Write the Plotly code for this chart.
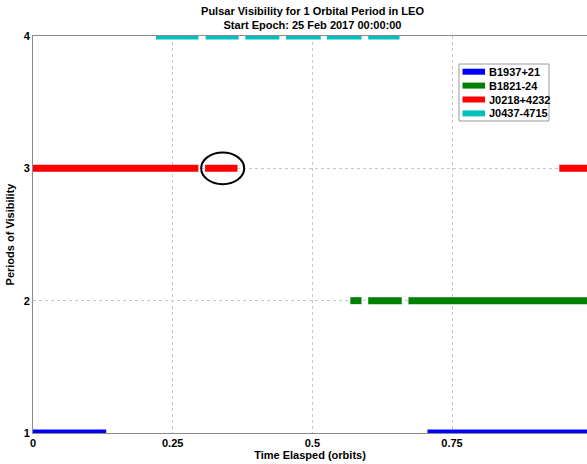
import plotly.graph_objects as go

# Visibility windows (start, end) in orbits for each pulsar
pulsars = ["B1937+21", "B1821-24", "J0218+4232", "J0437-4715"]
levels = [1, 2, 3, 4]
colors = ["#0000FF", "#008000", "#FF0000", "#00BFBF"]

b1937_starts = [0.0, 0.706]
b1937_ends = [0.131, 1.0]
b1821_starts = [0.568, 0.600, 0.672]
b1821_ends = [0.588, 0.660, 1.0]
j0218_starts = [0.0, 0.308, 0.942]
j0218_ends = [0.296, 0.366, 1.0]
j0437_starts = [0.220, 0.309, 0.380, 0.453, 0.526, 0.600]
j0437_ends = [0.296, 0.368, 0.441, 0.515, 0.588, 0.656]

starts = [b1937_starts, b1821_starts, j0218_starts, j0437_starts]
ends = [b1937_ends, b1821_ends, j0218_ends, j0437_ends]

# highlighted window (ellipse)
ell_x = [0.301, 0.378]
ell_y = [2.88, 3.12]

x_ticks = [0, 0.25, 0.5, 0.75]
x_ticklabels = ["0", "0.25", "0.5", "0.75"]
y_ticks = [1, 2, 3, 4]

FONT = "Liberation Sans, Arial, Helvetica, sans-serif"
W, H = 587, 464
L, R, T, B = 33, 0, 36, 31
PW, PH = W - L - R, H - T - B


def px2paper_x(px):
    return (px - L) / PW


def px2paper_y(py):
    return (H - B - py) / PH


fig = go.Figure()
for name, lvl, col, s, e in zip(pulsars, levels, colors, starts, ends):
    xs, ys = [], []
    for a, b in zip(s, e):
        xs += [a, b, None]
        ys += [lvl, lvl, None]
    fig.add_trace(go.Scatter(x=xs, y=ys, mode="lines", name=name,
                             line=dict(color=col, width=7), showlegend=False,
                             hoverinfo="skip"))

fig.add_shape(type="circle", xref="x", yref="y",
              x0=ell_x[0], x1=ell_x[1], y0=ell_y[0], y1=ell_y[1],
              line=dict(color="black", width=2))

# Legend box drawn by hand (MATLAB-style compact legend)
fig.add_shape(type="rect", xref="paper", yref="paper",
              x0=px2paper_x(459), x1=px2paper_x(549),
              y0=px2paper_y(121), y1=px2paper_y(64),
              line=dict(color="#9A9A9A", width=1), fillcolor="white", layer="above")
row_y = [71.7, 85.6, 99.5, 113.4]
for name, col, ry in zip(pulsars, colors, row_y):
    fig.add_shape(type="line", xref="paper", yref="paper",
                  x0=px2paper_x(462.5), x1=px2paper_x(485),
                  y0=px2paper_y(ry), y1=px2paper_y(ry),
                  line=dict(color=col, width=6), layer="above")
    fig.add_annotation(xref="paper", yref="paper", x=px2paper_x(487), y=px2paper_y(ry),
                       xanchor="left", yanchor="middle", text=name, showarrow=False,
                       font=dict(family=FONT, size=11, color="black", weight="bold"))

fig.update_layout(
    width=W, height=H,
    margin=dict(l=L, r=R, t=T, b=B, autoexpand=False),
    paper_bgcolor="white", plot_bgcolor="white",
    font=dict(family=FONT, size=11, color="black", weight="bold"),
    title=dict(text="Pulsar Visibility for 1 Orbital Period in LEO<br>Start Epoch: 25 Feb 2017 00:00:00",
               x=312.5 / W, xanchor="center", y=1 - 15 / H, yanchor="top",
               font=dict(family=FONT, size=11, color="black", weight="bold")),
    showlegend=False,
)
fig.update_xaxes(range=[0, 0.9916], tickvals=x_ticks, ticktext=x_ticklabels,
                 showgrid=True, gridcolor="#C8C8C8", griddash="dot", gridwidth=1,
                 zeroline=False, showline=True, linecolor="#8C8C8C", linewidth=1,
                 mirror=True, ticks="", ticklabelstandoff=0, automargin=False,
                 title=dict(text="Time Elasped (orbits)", standoff=0,
                            font=dict(family=FONT, size=11, weight="bold")))
fig.update_yaxes(range=[1, 4], tickvals=y_ticks,
                 showgrid=True, gridcolor="#C8C8C8", griddash="dot", gridwidth=1,
                 zeroline=False, showline=True, linecolor="#8C8C8C", linewidth=1,
                 ticks="", ticklabelstandoff=0, automargin=False,
                 title=dict(text="Periods of Visibility", standoff=6,
                            font=dict(family=FONT, size=11, weight="bold")))

fig.write_html("out.html", config={"displayModeBar": False},
               post_script="document.body.style.margin='0';document.body.style.padding='0';")
